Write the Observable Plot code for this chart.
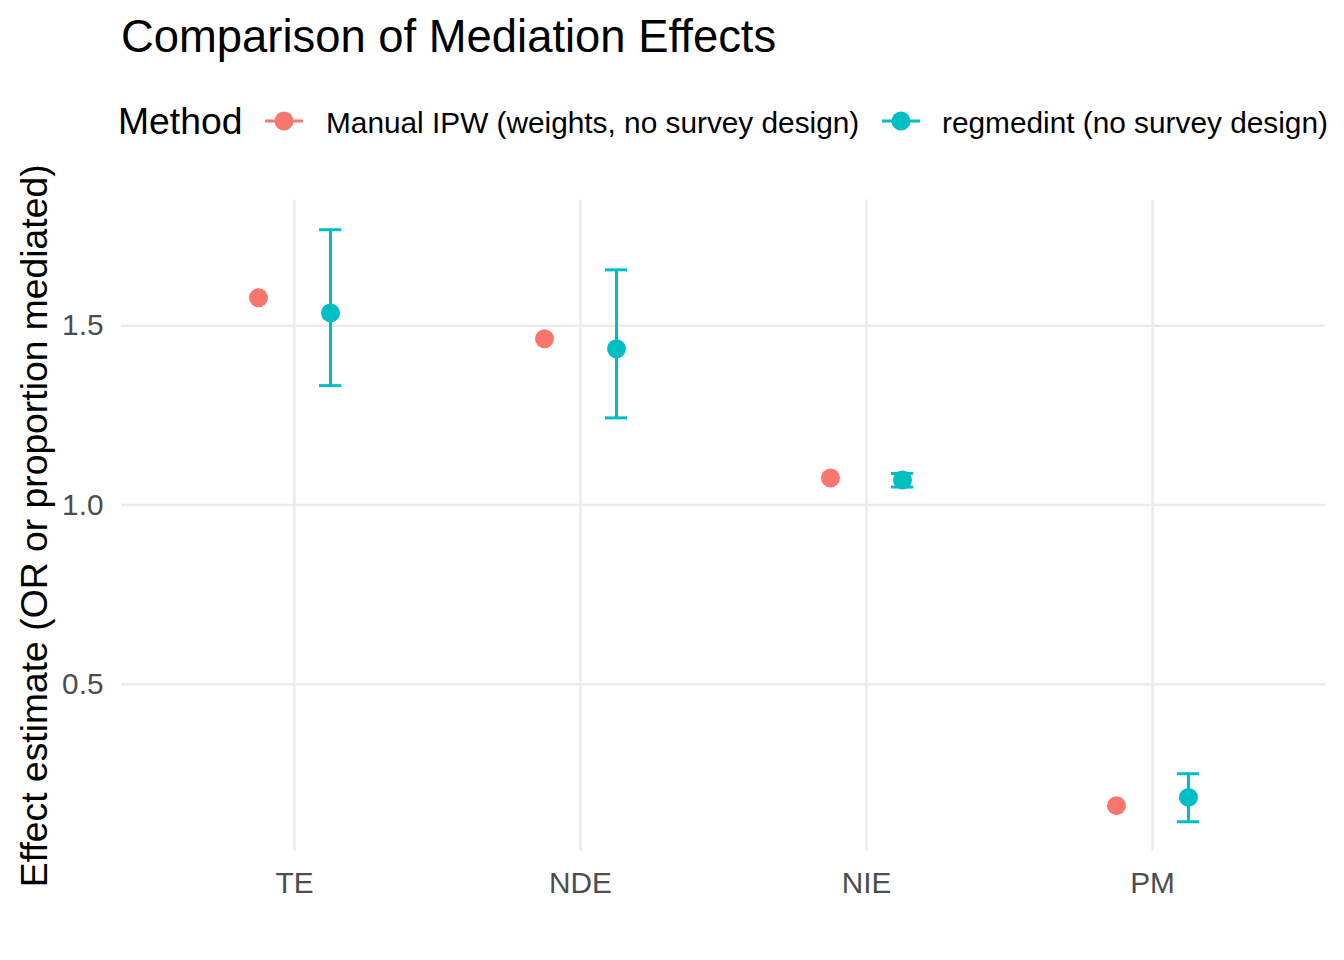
<!DOCTYPE html>
<html>
<head>
<meta charset="utf-8">
<script src="https://cdn.jsdelivr.net/npm/d3@7"></script>
<script src="https://cdn.jsdelivr.net/npm/@observablehq/plot@0.6"></script>
<style>
  body { margin: 0; background: white; font-family: "Liberation Sans", Arial, sans-serif; }
  #wrap { width: 1344px; }
  #header { position: relative; width: 1344px; height: 160px; }
  .abs { position: absolute; white-space: nowrap; line-height: 1; color: black; }
</style>
</head>
<body>
<div id="wrap">
  <div id="header">
    <div class="abs" id="title" style="left:121px; top:13.6px; font-size:45.4px;"></div>
    <div class="abs" id="legtitle" style="left:118px; top:103.4px; font-size:37.3px;"></div>
    <svg class="abs" id="key0" style="left:262px; top:108px;" width="44" height="26"></svg>
    <div class="abs" id="lab0" style="left:326px; top:107.5px; font-size:29.8px;"></div>
    <svg class="abs" id="key1" style="left:879px; top:108px;" width="44" height="26"></svg>
    <div class="abs" id="lab1" style="left:942px; top:107.5px; font-size:29.8px;"></div>
  </div>
  <div id="chart"></div>
</div>
<script>
// ---- data ----
const titleText = "Comparison of Mediation Effects";
const legendTitle = "Method";
const methods = ["Manual IPW (weights, no survey design)", "regmedint (no survey design)"];
const methodColors = ["#F8766D", "#00BFC4"];
const categories = ["TE", "NDE", "NIE", "PM"];
const manualEst = [1.578, 1.464, 1.075, 0.161];
const regEst = [1.536, 1.436, 1.070, 0.184];
const regLo = [1.333, 1.243, 1.050, 0.116];
const regHi = [1.768, 1.656, 1.088, 0.250];
const yTicks = [0.5, 1.0, 1.5];
const yLabel = "Effect estimate (OR or proportion mediated)";

// ---- header ----
document.getElementById("title").textContent = titleText;
document.getElementById("legtitle").textContent = legendTitle;
methods.forEach((m, i) => {
  document.getElementById("lab" + i).textContent = m;
  const svg = d3.select("#key" + i);
  svg.append("line").attr("x1", 3).attr("x2", 41).attr("y1", 13).attr("y2", 13)
    .attr("stroke", methodColors[i]).attr("stroke-width", 3);
  svg.append("circle").attr("cx", 22).attr("cy", 13).attr("r", 9.5).attr("fill", methodColors[i]);
});

// ---- chart ----
const manual = categories.map((c, i) => ({cat: c, est: manualEst[i]}));
const reg = categories.map((c, i) => ({cat: c, est: regEst[i], lo: regLo[i], hi: regHi[i]}));
const off = 36;
const gridStyle = {stroke: "#EBEBEB", strokeWidth: 2.5, strokeOpacity: 1};

const chart = Plot.plot({
  width: 1344,
  height: 800,
  marginLeft: 121,
  marginRight: 19,
  marginTop: 39.5,
  marginBottom: 109,
  style: {fontFamily: "'Liberation Sans', Arial, sans-serif", background: "white", overflow: "visible"},
  x: {type: "point", domain: categories, padding: 0.6, label: null},
  y: {domain: [0.033, 1.851], label: null},
  marks: [
    Plot.gridX(categories, gridStyle),
    Plot.gridY(yTicks, gridStyle),
    Plot.axisX({tickSize: 0, tickPadding: 20, fontSize: 29.8, color: "#4D4D4D", label: null}),
    Plot.axisY(yTicks, {tickSize: 0, tickPadding: 18, fontSize: 29.8, color: "#4D4D4D", tickFormat: d3.format(".1f"), label: null}),
    Plot.ruleX(reg, {x: "cat", y1: "lo", y2: "hi", dx: off, stroke: methodColors[1], strokeWidth: 3}),
    Plot.ruleY(reg, {x1: "cat", x2: "cat", y: "lo", dx: off, insetLeft: -11, insetRight: -11, stroke: methodColors[1], strokeWidth: 3}),
    Plot.ruleY(reg, {x1: "cat", x2: "cat", y: "hi", dx: off, insetLeft: -11, insetRight: -11, stroke: methodColors[1], strokeWidth: 3}),
    Plot.dot(manual, {x: "cat", y: "est", dx: -off, r: 9.5, fill: methodColors[0], stroke: null}),
    Plot.dot(reg, {x: "cat", y: "est", dx: off, r: 9.5, fill: methodColors[1], stroke: null}),
    Plot.text([yLabel], {text: d => d, frameAnchor: "left", rotate: -90, dx: -86, fontSize: 37.3, fill: "black", lineAnchor: "middle", textAnchor: "middle"})
  ]
});
document.getElementById("chart").appendChild(chart);
</script>
</body>
</html>
